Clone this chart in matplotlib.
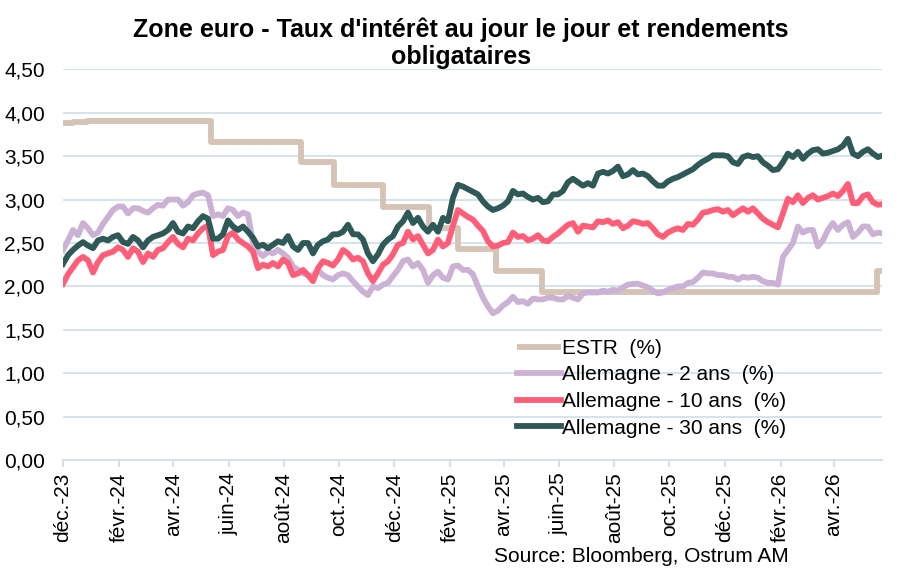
import matplotlib
matplotlib.use("Agg")
import matplotlib.pyplot as plt
import pandas as pd
import numpy as np

plt.rcParams['font.family'] = ['Liberation Sans', 'DejaVu Sans']

# ---------------- data ----------------
title_line1 = "Zone euro - Taux d'intérêt au jour le jour et rendements"
title_line2 = "obligataires"
source_text = "Source: Bloomberg, Ostrum AM"

series_labels = ["ESTR  (%)", "Allemagne - 2 ans  (%)", "Allemagne - 10 ans  (%)", "Allemagne - 30 ans  (%)"]

# ESTR: level-change dates and levels (step series)
estr_dates = ['2023-12-01', '2023-12-12', '2023-12-28', '2024-01-20', '2024-05-13', '2024-08-20', '2024-09-25',
              '2024-11-19', '2025-01-08', '2025-02-09', '2025-03-24', '2025-05-13', '2026-05-19',
              '2026-05-25']
estr_values = [3.885, 3.895, 3.905, 3.91, 3.665, 3.43, 3.17, 2.92, 2.67, 2.43, 2.18, 1.93, 2.18, 2.18]

# bond yields, sampled on a regular timeline from 2023-12-01 to 2026-05-25
bond_start = '2023-12-01'
bond_end = '2026-05-25'

de2y = [2.42, 2.53, 2.65, 2.59, 2.73, 2.67, 2.59, 2.62, 2.72, 2.80, 2.88, 2.92, 2.92, 2.84, 2.90, 2.90, 2.87,
        2.85, 2.90, 2.94, 2.93, 3.00, 3.00, 3.00, 2.93, 2.97, 3.05, 3.07, 3.08, 3.05, 2.81, 2.83, 2.81, 2.90,
        2.88, 2.81, 2.85, 2.83, 2.50, 2.40, 2.35, 2.40, 2.38, 2.42, 2.38, 2.33, 2.23, 2.19, 2.15, 2.13, 2.12,
        2.19, 2.13, 2.10, 2.08, 2.13, 2.15, 2.13, 2.06, 2.00, 1.94, 1.90, 2.00, 1.98, 2.02, 2.04, 2.12,
        2.19, 2.29, 2.31, 2.23, 2.27, 2.19, 2.04, 2.13, 2.17, 2.10, 2.08, 2.23, 2.24, 2.19, 2.19, 2.14, 2.00,
        1.87, 1.77, 1.69, 1.72, 1.78, 1.82, 1.88, 1.82, 1.83, 1.80, 1.86, 1.85, 1.85, 1.87, 1.87, 1.85,
        1.85, 1.89, 1.87, 1.85, 1.92, 1.93, 1.93, 1.93, 1.95, 1.94, 1.96, 1.95, 1.99, 2.02, 2.03, 2.03, 2.01,
        1.99, 1.95, 1.92, 1.93, 1.96, 1.98, 2.00, 2.00, 2.04, 2.05, 2.10, 2.16, 2.15, 2.15, 2.13, 2.13, 2.11,
        2.11, 2.08, 2.11, 2.10, 2.11, 2.10, 2.06, 2.04, 2.04, 2.02, 2.34, 2.42, 2.50, 2.69, 2.62, 2.65, 2.65,
        2.46, 2.53, 2.65, 2.73, 2.65, 2.71, 2.74, 2.57, 2.62, 2.69, 2.69, 2.60, 2.62, 2.61]

de10y = [2.03, 2.14, 2.22, 2.30, 2.34, 2.30, 2.16, 2.28, 2.36, 2.38, 2.40, 2.45, 2.42, 2.34, 2.44, 2.40, 2.28,
         2.38, 2.34, 2.42, 2.44, 2.51, 2.57, 2.49, 2.45, 2.55, 2.53, 2.61, 2.67, 2.70, 2.36, 2.40, 2.42, 2.58,
         2.62, 2.54, 2.50, 2.46, 2.40, 2.21, 2.25, 2.23, 2.27, 2.23, 2.31, 2.27, 2.13, 2.15, 2.19, 2.13, 2.06,
         2.21, 2.29, 2.27, 2.24, 2.31, 2.42, 2.38, 2.31, 2.33, 2.29, 2.15, 2.06, 2.15, 2.25, 2.29, 2.37,
         2.48, 2.50, 2.63, 2.54, 2.58, 2.48, 2.38, 2.42, 2.54, 2.46, 2.50, 2.70, 2.88, 2.84, 2.80, 2.77, 2.70,
         2.64, 2.52, 2.46, 2.47, 2.50, 2.51, 2.62, 2.57, 2.58, 2.53, 2.55, 2.59, 2.53, 2.52, 2.57, 2.61,
         2.66, 2.71, 2.73, 2.63, 2.70, 2.69, 2.68, 2.75, 2.74, 2.76, 2.72, 2.74, 2.67, 2.70, 2.75, 2.74, 2.72,
         2.73, 2.67, 2.60, 2.57, 2.62, 2.65, 2.67, 2.65, 2.72, 2.71, 2.77, 2.85, 2.86, 2.88, 2.89, 2.86, 2.88,
         2.82, 2.86, 2.90, 2.86, 2.90, 2.84, 2.78, 2.74, 2.71, 2.68, 2.84, 3.01, 2.97, 3.05, 2.96, 3.02, 3.05,
         3.00, 3.02, 3.04, 3.07, 3.04, 3.10, 3.18, 2.96, 2.96, 3.04, 3.06, 2.97, 2.94, 2.95]

de30y = [2.26, 2.36, 2.42, 2.47, 2.51, 2.47, 2.44, 2.53, 2.55, 2.53, 2.57, 2.59, 2.51, 2.49, 2.57, 2.53, 2.45,
         2.53, 2.57, 2.59, 2.61, 2.65, 2.73, 2.63, 2.61, 2.69, 2.67, 2.75, 2.81, 2.78, 2.55, 2.55, 2.60, 2.76,
         2.69, 2.65, 2.69, 2.63, 2.56, 2.46, 2.48, 2.44, 2.48, 2.52, 2.50, 2.58, 2.46, 2.42, 2.50, 2.50, 2.38,
         2.48, 2.52, 2.54, 2.60, 2.60, 2.63, 2.71, 2.60, 2.60, 2.54, 2.38, 2.29, 2.37, 2.48, 2.54, 2.58,
         2.69, 2.75, 2.85, 2.73, 2.79, 2.69, 2.63, 2.71, 2.63, 2.79, 2.75, 3.02, 3.17, 3.15, 3.12, 3.09, 3.06,
         2.98, 2.92, 2.88, 2.90, 2.93, 2.98, 3.10, 3.06, 3.07, 3.03, 3.00, 3.02, 2.97, 2.98, 3.06, 3.06,
         3.10, 3.20, 3.24, 3.20, 3.16, 3.19, 3.16, 3.30, 3.32, 3.30, 3.33, 3.38, 3.27, 3.29, 3.34, 3.29, 3.30,
         3.27, 3.21, 3.16, 3.16, 3.21, 3.24, 3.26, 3.29, 3.32, 3.35, 3.40, 3.44, 3.47, 3.51, 3.51, 3.51, 3.50,
         3.43, 3.41, 3.49, 3.51, 3.49, 3.50, 3.43, 3.39, 3.34, 3.35, 3.43, 3.53, 3.49, 3.55, 3.47, 3.53, 3.57,
         3.58, 3.53, 3.54, 3.56, 3.58, 3.62, 3.70, 3.53, 3.50, 3.55, 3.58, 3.53, 3.49, 3.51]

tick_dates = ['2023-12-01', '2024-02-01', '2024-04-01', '2024-06-01', '2024-08-01', '2024-10-01',
              '2024-12-01', '2025-02-01', '2025-04-01', '2025-06-01', '2025-08-01', '2025-10-01',
              '2025-12-01', '2026-02-01', '2026-04-01']
tick_labels = ['déc.-23', 'févr.-24', 'avr.-24', 'juin-24', 'août-24', 'oct.-24', 'déc.-24', 'févr.-25',
               'avr.-25', 'juin-25', 'août-25', 'oct.-25', 'déc.-25', 'févr.-26', 'avr.-26']
y_ticks = [0.0, 0.5, 1.0, 1.5, 2.0, 2.5, 3.0, 3.5, 4.0, 4.5]
x_range = ['2023-12-01', '2026-05-24']

# ---------------- styling ----------------
c_estr = '#D5C3B6'
c_2y = '#CBB2D5'
c_10y = '#FF5E79'
c_30y = '#2E5957'
c_grid = '#D3E1E9'
FS = 15
FS_TITLE = 18

W, H = 923, 568
fig = plt.figure(figsize=(W / 100, H / 100), dpi=100)
ax = fig.add_axes([63 / W, 1 - 460 / H, (882 - 63) / W, (460 - 69.4) / H])

bond_dates = pd.date_range(bond_start, bond_end, periods=len(de30y))
lw = 4.2
ax.plot(pd.to_datetime(estr_dates), estr_values, color=c_estr, lw=lw, drawstyle='steps-post',
        label=series_labels[0], solid_capstyle='butt', zorder=3)
ax.plot(bond_dates, de2y, color=c_2y, lw=lw, label=series_labels[1], zorder=4)
ax.plot(bond_dates, de10y, color=c_10y, lw=lw, label=series_labels[2], zorder=5)
ax.plot(bond_dates, de30y, color=c_30y, lw=lw, label=series_labels[3], zorder=6)

ax.set_ylim(0, 4.5)
ax.set_xlim(pd.to_datetime(x_range[0]), pd.to_datetime(x_range[1]))
ax.set_yticks(y_ticks)
ax.set_yticklabels([f"{v:.2f}".replace('.', ',') for v in y_ticks], fontsize=FS)
ax.set_xticks(pd.to_datetime(tick_dates))
ax.set_xticklabels(tick_labels, rotation=90, fontsize=FS)
ax.tick_params(axis='y', length=0, pad=13)
ax.tick_params(axis='x', length=5, width=1.5, color=c_grid, direction='out', pad=4)
ax.yaxis.grid(True, color=c_grid, lw=1.3, zorder=0)
ax.set_axisbelow(True)
for s in ['top', 'right', 'left']:
    ax.spines[s].set_visible(False)
ax.spines['bottom'].set_color(c_grid)
ax.spines['bottom'].set_linewidth(1.5)

leg = ax.legend(loc='upper left', bbox_to_anchor=(517 / W, 1 - 339 / H), bbox_transform=fig.transFigure,
                frameon=False, fontsize=FS, handlelength=2.1, handletextpad=0.05, labelspacing=0.36,
                borderpad=0, borderaxespad=0)

fig.text(461 / W, 1 - 30 / H, title_line1, ha='center', va='center', fontsize=FS_TITLE, fontweight='bold')
fig.text(461 / W, 1 - 57 / H, title_line2, ha='center', va='center', fontsize=FS_TITLE, fontweight='bold')
fig.text(494 / W, 1 - 557 / H, source_text, ha='left', va='center', fontsize=FS)

fig.savefig('out.png', dpi=100)
